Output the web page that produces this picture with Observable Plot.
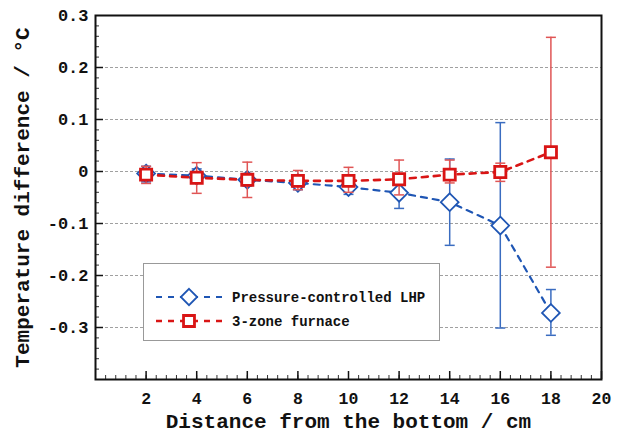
<!DOCTYPE html>
<html><head><meta charset="utf-8">
<script src="https://cdn.jsdelivr.net/npm/d3@7"></script>
<script src="https://cdn.jsdelivr.net/npm/@observablehq/plot@0.6"></script>
<style>
body{margin:0;background:#fff;}
#wrap{position:relative;width:626px;height:439px;}
#legend{position:absolute;left:143px;top:263px;width:297px;height:78px;border:1px solid #999;background:#fff;box-sizing:border-box;}
</style></head><body><div id="wrap"></div>
<script>
// Data
const positions = [2, 4, 6, 8, 10, 12, 14, 16, 18];
const lhpValue = [-0.004, -0.008, -0.016, -0.022, -0.030, -0.041, -0.059, -0.104, -0.272];
const lhpLow   = [-0.020, -0.020, -0.028, -0.035, -0.044, -0.071, -0.142, -0.301, -0.315];
const lhpHigh  = [ 0.010,  0.005, -0.004, -0.008, -0.018, -0.015,  0.024,  0.094, -0.227];
const furnaceValue = [-0.006, -0.012, -0.016, -0.018, -0.018, -0.015, -0.006, -0.001, 0.037];
const furnaceLow   = [-0.023, -0.042, -0.050, -0.035, -0.040, -0.045, -0.022, -0.019, -0.184];
const furnaceHigh  = [ 0.010,  0.017,  0.018,  0.002,  0.008,  0.022,  0.022,  0.016, 0.258];
const seriesNames = ["Pressure-controlled LHP", "3-zone furnace"];
const xTickLabels = [2, 4, 6, 8, 10, 12, 14, 16, 18, 20];
const yTickLabels = [0.3, 0.2, 0.1, 0, -0.1, -0.2, -0.3];
const gridValues = [0.2, 0.1, 0, -0.1, -0.2, -0.3];
const xTitle = "Distance from the bottom / cm";
const yTitle = "Temperature difference / °C";

const lhp = positions.map((x, i) => ({x, y: lhpValue[i], lo: lhpLow[i], hi: lhpHigh[i]}));
const furnace = positions.map((x, i) => ({x, y: furnaceValue[i], lo: furnaceLow[i], hi: furnaceHigh[i]}));

const blue = "#1f56b4", blueErr = "#3a6cc0";
const red = "#d91515", redErr = "#e05555";
const font = "'Liberation Mono', 'DejaVu Sans Mono', monospace";

const capSymbol = {draw(ctx, size) { const w = 5; ctx.moveTo(-w, 0); ctx.lineTo(w, 0); }};

const xMinor = d3.range(0, 20.001, 0.4).map(v => +v.toFixed(2));
const yMinor = d3.range(-0.4, 0.3001, 0.02).map(v => +v.toFixed(3));

const errMarks = (data, color) => [
  Plot.ruleX(data, {x: "x", y1: "lo", y2: "hi", stroke: color, strokeWidth: 1.5}),
  Plot.dot(data, {x: "x", y: "lo", symbol: capSymbol, stroke: color, strokeWidth: 1.5, r: 5}),
  Plot.dot(data, {x: "x", y: "hi", symbol: capSymbol, stroke: color, strokeWidth: 1.5, r: 5})
];

const chart = Plot.plot({
  width: 626, height: 439,
  marginLeft: 95, marginRight: 25, marginTop: 15, marginBottom: 60,
  style: {fontFamily: font, fontWeight: "bold", fontSize: "17px", color: "#111", background: "#fff"},
  x: {domain: [0, 20], axis: null},
  y: {domain: [-0.4, 0.3], axis: null},
  marks: [
    Plot.ruleY(gridValues, {stroke: "#888", strokeWidth: 0.8, strokeDasharray: "3,2"}),
    Plot.axisY(yMinor, {anchor: "left", tickSize: -4, tickFormat: () => "", stroke: "#333", label: null}),
    Plot.axisY(gridValues, {anchor: "left", tickSize: -8, tickFormat: () => "", stroke: "#111", strokeWidth: 1.5, label: null}),
    Plot.axisY(yTickLabels, {anchor: "left", tickSize: 0, tickPadding: 7, tickFormat: d => d === 0 ? "0" : d.toFixed(1), label: null, fill: "#111"}),
    Plot.axisX(xMinor, {anchor: "bottom", tickSize: -4, tickFormat: () => "", stroke: "#333", label: null}),
    Plot.axisX(xTickLabels, {anchor: "bottom", tickSize: -8, tickFormat: () => "", stroke: "#111", strokeWidth: 1.5, label: null}),
    Plot.axisX(xTickLabels, {anchor: "bottom", tickSize: 0, tickPadding: 13, label: null, fill: "#111", fontSize: 16.5}),
    Plot.text([xTitle], {text: d => d, frameAnchor: "bottom", dy: 48, fontSize: 21, fontWeight: "bold", fill: "#111"}),
    Plot.text([yTitle], {text: d => d, frameAnchor: "left", dx: -73, rotate: -90, textAnchor: "middle", fontSize: 21, fontWeight: "bold", fill: "#111"}),
    Plot.line(lhp, {x: "x", y: "y", stroke: blue, strokeWidth: 2.2, strokeDasharray: "6,6"}),
    ...errMarks(lhp, blueErr),
    Plot.dot(lhp, {x: "x", y: "y", symbol: "diamond2", r: 8, stroke: blue, strokeWidth: 1.8, fill: "white"}),
    Plot.line(furnace, {x: "x", y: "y", stroke: red, strokeWidth: 2.6, strokeDasharray: "6,6"}),
    ...errMarks(furnace, redErr),
    Plot.dot(furnace, {x: "x", y: "y", symbol: "square", r: 6.3, stroke: red, strokeWidth: 2.8, fill: "white"}),
    Plot.frame({stroke: "#111", strokeWidth: 2})
  ]
});

const wrap = document.getElementById("wrap");
wrap.appendChild(chart);

// Legend overlay
const legend = document.createElement("div");
legend.id = "legend";
wrap.appendChild(legend);
const svg = d3.select(legend).append("svg").attr("width", 295).attr("height", 76);
const items = [
  {name: seriesNames[0], color: blue, sym: d3.symbolDiamond2, size: 170, sw: 1.8, dash: "6,6", lw: 2.2},
  {name: seriesNames[1], color: red, sym: d3.symbolSquare, size: 120, sw: 2.8, dash: "6,6", lw: 2.6}
];
items.forEach((it, i) => {
  const y = 33 + i * 24;
  svg.append("line").attr("x1", 12).attr("x2", 78).attr("y1", y).attr("y2", y)
    .attr("stroke", it.color).attr("stroke-width", it.lw).attr("stroke-dasharray", it.dash);
  svg.append("path").attr("d", d3.symbol(it.sym, it.size)()).attr("transform", `translate(45,${y})`)
    .attr("fill", "white").attr("stroke", it.color).attr("stroke-width", it.sw);
  svg.append("text").attr("x", 88).attr("y", y).attr("dy", "0.35em")
    .attr("font-family", font).attr("font-weight", "bold").attr("font-size", 14).attr("fill", "#111")
    .text(it.name);
});
</script>
</body></html>
